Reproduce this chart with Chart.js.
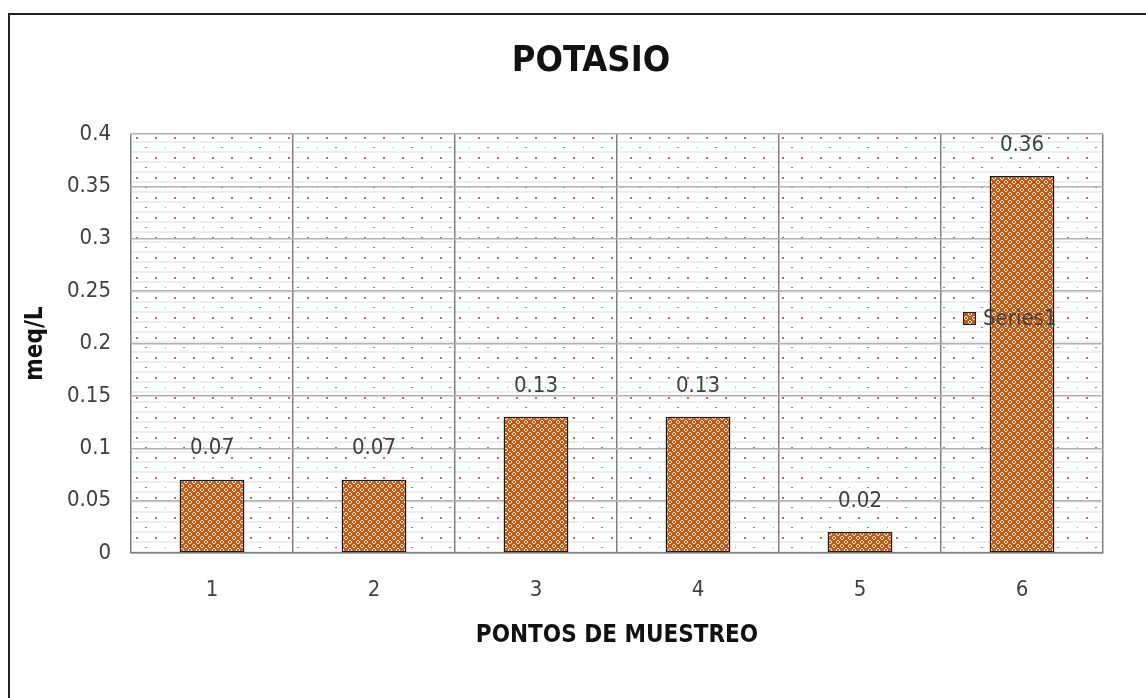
<!DOCTYPE html>
<html>
<head>
<meta charset="utf-8">
<script src="https://cdn.jsdelivr.net/npm/chart.js@4.4.0/dist/chart.umd.min.js"></script>
<style>
  html, body { margin: 0; padding: 0; background: #fff; overflow: hidden; }
  #wrap { position: relative; width: 1146px; height: 698px; }
  #frame { position: absolute; left: 8px; top: 13px; width: 1200px; height: 800px;
           border-left: 2px solid #222; border-top: 2px solid #222; }
  canvas { position: absolute; left: 0; top: 0; }
</style>
</head>
<body>
<div id="wrap">
  <div id="frame"></div>
  <canvas id="grafico" width="1146" height="698"></canvas>
</div>
<script>
const FONT = "'Liberation Sans Narrow', 'DejaVu Sans Condensed', 'Roboto', sans-serif";

// datos
const puntos = ['1', '2', '3', '4', '5', '6'];
const potasio = [0.07, 0.07, 0.13, 0.13, 0.02, 0.36];
const etiquetas = ['0.07', '0.07', '0.13', '0.13', '0.02', '0.36'];
const ticksY = [0, 0.05, 0.1, 0.15, 0.2, 0.25, 0.3, 0.35, 0.4];
const nombreSerie = 'Series1';
const titulo = 'POTASIO';

// patron de la barra (naranja con reticula blanca)
function patronBarra(ctx) {
  const c = document.createElement('canvas');
  c.width = 8; c.height = 8;
  const g = c.getContext('2d');
  g.fillStyle = '#C55A11';
  g.fillRect(0, 0, 8, 8);
  g.fillStyle = 'rgba(255,255,255,0.85)';
  g.fillRect(1, 0, 2, 1);
  g.fillRect(0, 1, 1, 2);
  g.fillRect(3, 1, 1, 2);
  g.fillRect(1, 3, 2, 1);
  g.fillRect(5, 4, 2, 1);
  g.fillRect(4, 5, 1, 2);
  g.fillRect(7, 5, 1, 2);
  g.fillRect(5, 7, 2, 1);
  return ctx.createPattern(c, 'repeat');
}

// patron del fondo (franjas grises y puntos naranjas)
function patronFondo(ctx) {
  const c = document.createElement('canvas');
  c.width = 38; c.height = 20;
  const g = c.getContext('2d');
  g.fillStyle = '#ffffff';
  g.fillRect(0, 0, 38, 20);
  g.fillStyle = '#eeeeee';
  g.fillRect(0, 7, 38, 2);
  g.fillRect(0, 17, 38, 2);
  g.fillStyle = '#cc6f2c';
  g.fillRect(5, 3, 2, 2);
  g.fillRect(24, 3, 2, 2);
  g.fillRect(14, 13, 2, 1);
  g.fillStyle = '#dd8e55';
  g.fillRect(34, 13, 1, 1);
  return ctx.createPattern(c, 'repeat');
}

const ctx = document.getElementById('grafico').getContext('2d');
const rellenoBarra = patronBarra(ctx);
const rellenoFondo = patronFondo(ctx);

const fondoPlugin = {
  id: 'fondo',
  beforeDraw(chart) {
    const a = chart.chartArea;
    const c = chart.ctx;
    c.save();
    c.translate(a.left, a.top);
    c.fillStyle = rellenoFondo;
    c.fillRect(0, 0, a.right - a.left, a.bottom - a.top);
    c.restore();
  }
};

const tituloPlugin = {
  id: 'titulo',
  afterDraw(chart) {
    const c = chart.ctx;
    c.save();
    c.font = 'bold 36px ' + FONT;
    c.fillStyle = '#111';
    c.textAlign = 'center';
    c.textBaseline = 'middle';
    c.fillText(titulo, 591, 62);
    c.restore();
  }
};

const etiquetasPlugin = {
  id: 'etiquetas',
  afterDatasetsDraw(chart) {
    const c = chart.ctx;
    const meta = chart.getDatasetMeta(0);
    c.save();
    c.font = '22px ' + FONT;
    c.fillStyle = '#404040';
    c.textAlign = 'center';
    c.textBaseline = 'middle';
    meta.data.forEach((bar, i) => {
      c.fillText(etiquetas[i], bar.x, bar.y - 31);
    });
    c.restore();
  }
};

const leyendaPlugin = {
  id: 'leyenda',
  afterDraw(chart) {
    const a = chart.chartArea;
    const c = chart.ctx;
    const x = a.right - 140, y = a.top + 184;
    c.save();
    c.fillStyle = rellenoBarra;
    c.fillRect(x, y - 6, 13, 13);
    c.strokeStyle = '#222';
    c.lineWidth = 1;
    c.strokeRect(x + 0.5, y - 5.5, 12, 12);
    c.font = '22px ' + FONT;
    c.fillStyle = '#404040';
    c.textBaseline = 'middle';
    c.fillText(nombreSerie, x + 20, y + 1);
    c.restore();
  }
};

new Chart(ctx, {
  type: 'bar',
  data: {
    labels: puntos,
    datasets: [{
      label: nombreSerie,
      data: potasio,
      backgroundColor: rellenoBarra,
      borderColor: '#1a1a1a',
      borderWidth: 1.5,
      borderSkipped: false,
      barPercentage: 0.4,
      categoryPercentage: 1
    }]
  },
  options: {
    responsive: false,
    animation: false,
    layout: { padding: { left: 0, right: 43, top: 134, bottom: 0 } },
    plugins: {
      legend: { display: false },
      tooltip: { enabled: false },
      title: { display: false }
    },
    scales: {
      x: {
        afterFit(axis) { axis.height = 145; },
        grid: { color: '#808080', lineWidth: 1.5, offset: true, drawTicks: false },
        border: { color: '#808080', width: 1.5 },
        ticks: { color: '#404040', font: { family: FONT, size: 22 }, padding: 24 },
        title: {
          display: true,
          text: 'PONTOS DE MUESTREO',
          color: '#111',
          font: { family: FONT, size: 24, weight: 'bold' },
          padding: { top: 17, bottom: 48 }
        }
      },
      y: {
        min: 0,
        max: 0.4,
        afterBuildTicks(axis) { axis.ticks = ticksY.map(v => ({ value: v })); },
        afterFit(axis) { axis.width = 131; },
        grid: { color: '#b0b0b0', lineWidth: 1.5, drawTicks: false },
        border: { display: false },
        ticks: {
          color: '#404040',
          font: { family: FONT, size: 22 },
          padding: 20,
          callback: v => String(+v.toFixed(2))
        },
        title: {
          display: true,
          text: 'meq/L',
          color: '#111',
          font: { family: FONT, size: 24, weight: 'bold' },
          padding: { top: 21, bottom: 0 }
        }
      }
    }
  },
  plugins: [fondoPlugin, etiquetasPlugin, leyendaPlugin, tituloPlugin]
});
</script>
</body>
</html>
